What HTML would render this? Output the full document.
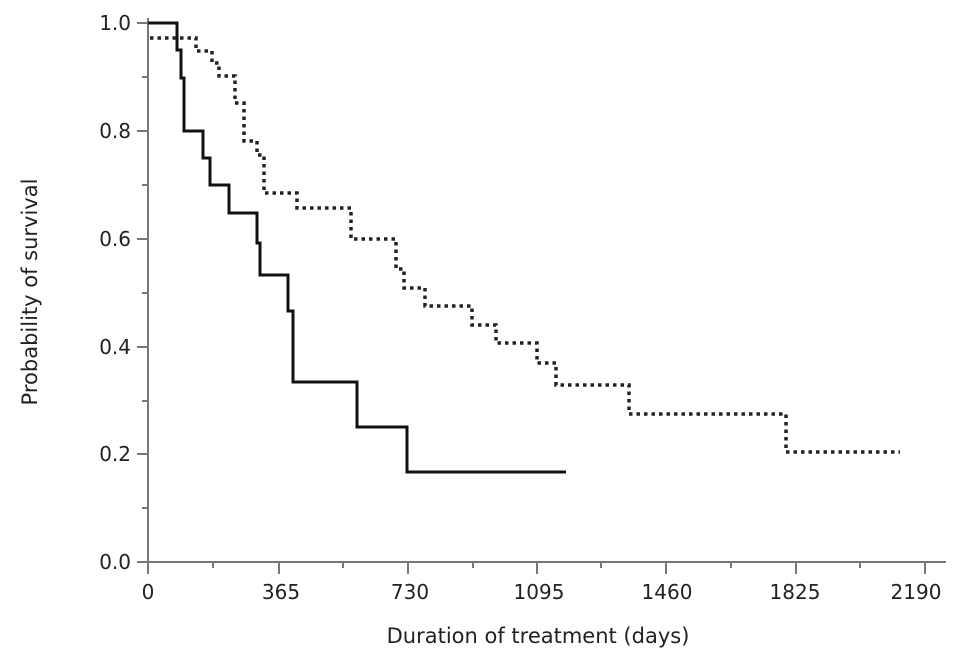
<!DOCTYPE html>
<html><head><meta charset="utf-8"><style>
html,body{margin:0;padding:0;background:#fff;}
svg{display:block;}
text{font-family:"DejaVu Sans","Liberation Sans",sans-serif;fill:#222;}
</style></head><body>
<svg width="969" height="669" viewBox="0 0 969 669" xmlns="http://www.w3.org/2000/svg">
<g stroke="#777" stroke-width="2" fill="none">
<line x1="148" y1="18" x2="148" y2="574"/>
<line x1="137" y1="562" x2="946" y2="562"/>
<line x1="137" y1="23" x2="148" y2="23"/>
<line x1="142" y1="77" x2="148" y2="77"/>
<line x1="137" y1="131" x2="148" y2="131"/>
<line x1="142" y1="185" x2="148" y2="185"/>
<line x1="137" y1="239" x2="148" y2="239"/>
<line x1="142" y1="293" x2="148" y2="293"/>
<line x1="137" y1="347" x2="148" y2="347"/>
<line x1="142" y1="401" x2="148" y2="401"/>
<line x1="137" y1="454" x2="148" y2="454"/>
<line x1="142" y1="508" x2="148" y2="508"/>
<line x1="279" y1="562" x2="279" y2="574"/>
<line x1="408" y1="562" x2="408" y2="574"/>
<line x1="537" y1="562" x2="537" y2="574"/>
<line x1="666" y1="562" x2="666" y2="574"/>
<line x1="796" y1="562" x2="796" y2="574"/>
<line x1="925" y1="562" x2="925" y2="574"/>
<line x1="213" y1="562" x2="213" y2="568"/>
<line x1="343" y1="562" x2="343" y2="568"/>
<line x1="473" y1="562" x2="473" y2="568"/>
<line x1="601" y1="562" x2="601" y2="568"/>
<line x1="731" y1="562" x2="731" y2="568"/>
<line x1="860" y1="562" x2="860" y2="568"/>
</g>
<g font-size="20" text-anchor="end">
<text x="131" y="30">1.0</text>
<text x="131" y="138">0.8</text>
<text x="131" y="246">0.6</text>
<text x="131" y="354">0.4</text>
<text x="131" y="461">0.2</text>
<text x="131" y="569">0.0</text>
</g>
<g font-size="20" text-anchor="middle">
<text x="148" y="599">0</text>
<text x="281" y="599">365</text>
<text x="410" y="599">730</text>
<text x="539" y="599">1095</text>
<text x="667" y="599">1460</text>
<text x="795" y="599">1825</text>
<text x="916" y="599">2190</text>
</g>
<text x="538" y="643" font-size="21" text-anchor="middle">Duration of treatment (days)</text>
<text transform="translate(37,292) rotate(-90)" font-size="21" text-anchor="middle">Probability of survival</text>
<path d="M148,23 H177 V50 H181 V78 H184 V131 H203 V158 H210 V185 H229 V213 H257 V243 H260 V275 H288 V311 H293 V382 H357 V427 H407 V472 H566" stroke="#111" stroke-width="3" fill="none"/>
<path d="M150,38 H196 V51 H212 V63 H219 V76 H235 V103 H244 V141 H257 V155 H264 V193 H297 V208 H351 V239 H396 V269 H404 V288 H425 V306 H472 V325 H496 V343 H537 V363 H556 V385 H629 V414 H786 V452 H900" stroke="#222" stroke-width="3.5" stroke-dasharray="3.5,4" fill="none"/>
</svg>
</body></html>
